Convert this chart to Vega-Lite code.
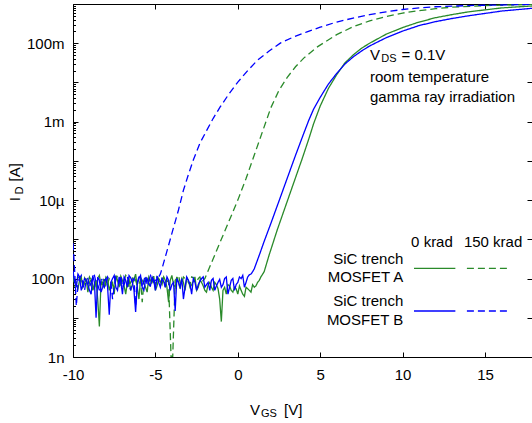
{
  "$schema": "https://vega.github.io/schema/vega-lite/v6.json",
  "width": 459,
  "height": 353,
  "autosize": {"type": "none"},
  "padding": {"left": 73, "top": 4, "right": 0, "bottom": 66},
  "background": "white",
  "config": {
    "view": {"stroke": null},
    "axis": {"grid": false, "domainColor": "black", "tickColor": "black", "labelColor": "black", "labelFont": "Liberation Sans", "labelFontSize": 15, "titleFont": "Liberation Sans", "labelFlush": false},
    "text": {"font": "Liberation Sans", "fontSize": 15, "color": "black"}
  },
  "resolve": {"axis": {"x": "independent", "y": "independent"}},
  "layer": [
    {
      "data": {"values": [
        {"mosfet":"A","dose":"0 krad","vgs":-10,"id":1.1e-7},{"mosfet":"A","dose":"0 krad","vgs":-9.8,"id":7e-8},{"mosfet":"A","dose":"0 krad","vgs":-9.6,"id":9e-8},{"mosfet":"A","dose":"0 krad","vgs":-9.4,"id":6e-8},{"mosfet":"A","dose":"0 krad","vgs":-9.2,"id":1e-7},{"mosfet":"A","dose":"0 krad","vgs":-9,"id":8e-8},{"mosfet":"A","dose":"0 krad","vgs":-8.8,"id":5e-8},{"mosfet":"A","dose":"0 krad","vgs":-8.6,"id":9e-8},{"mosfet":"A","dose":"0 krad","vgs":-8.4,"id":6e-9},{"mosfet":"A","dose":"0 krad","vgs":-8.2,"id":7e-8},{"mosfet":"A","dose":"0 krad","vgs":-8,"id":1.1e-7},{"mosfet":"A","dose":"0 krad","vgs":-7.8,"id":5e-8},{"mosfet":"A","dose":"0 krad","vgs":-7.6,"id":8e-8},{"mosfet":"A","dose":"0 krad","vgs":-7.4,"id":1.2e-7},{"mosfet":"A","dose":"0 krad","vgs":-7.2,"id":6e-8},{"mosfet":"A","dose":"0 krad","vgs":-7,"id":9e-8},{"mosfet":"A","dose":"0 krad","vgs":-6.8,"id":4e-8},{"mosfet":"A","dose":"0 krad","vgs":-6.6,"id":1e-7},{"mosfet":"A","dose":"0 krad","vgs":-6.4,"id":7e-8},{"mosfet":"A","dose":"0 krad","vgs":-6.2,"id":1.3e-7},{"mosfet":"A","dose":"0 krad","vgs":-6,"id":3e-8},{"mosfet":"A","dose":"0 krad","vgs":-5.8,"id":9e-8},{"mosfet":"A","dose":"0 krad","vgs":-5.6,"id":6e-8},{"mosfet":"A","dose":"0 krad","vgs":-5.4,"id":1.1e-7},{"mosfet":"A","dose":"0 krad","vgs":-5.2,"id":8e-8},{"mosfet":"A","dose":"0 krad","vgs":-5,"id":5e-8},{"mosfet":"A","dose":"0 krad","vgs":-4.8,"id":1e-7},{"mosfet":"A","dose":"0 krad","vgs":-4.6,"id":7e-8},{"mosfet":"A","dose":"0 krad","vgs":-4.4,"id":9e-8},{"mosfet":"A","dose":"0 krad","vgs":-4.2,"id":2.5e-8},{"mosfet":"A","dose":"0 krad","vgs":-4,"id":1.2e-7},{"mosfet":"A","dose":"0 krad","vgs":-3.8,"id":6e-8},{"mosfet":"A","dose":"0 krad","vgs":-3.6,"id":8e-8},{"mosfet":"A","dose":"0 krad","vgs":-3.4,"id":1e-7},{"mosfet":"A","dose":"0 krad","vgs":-3.2,"id":5e-8},{"mosfet":"A","dose":"0 krad","vgs":-3,"id":9e-8},{"mosfet":"A","dose":"0 krad","vgs":-2.8,"id":7e-8},{"mosfet":"A","dose":"0 krad","vgs":-2.6,"id":1.1e-7},{"mosfet":"A","dose":"0 krad","vgs":-2.4,"id":6e-8},{"mosfet":"A","dose":"0 krad","vgs":-2.2,"id":8e-8},{"mosfet":"A","dose":"0 krad","vgs":-2,"id":5e-8},{"mosfet":"A","dose":"0 krad","vgs":-1.8,"id":7e-8},{"mosfet":"A","dose":"0 krad","vgs":-1.6,"id":6e-8},{"mosfet":"A","dose":"0 krad","vgs":-1.4,"id":8e-8},{"mosfet":"A","dose":"0 krad","vgs":-1.2,"id":5.5e-8},{"mosfet":"A","dose":"0 krad","vgs":-1,"id":8e-9},{"mosfet":"A","dose":"0 krad","vgs":-0.8,"id":6e-8},{"mosfet":"A","dose":"0 krad","vgs":-0.6,"id":7e-8},{"mosfet":"A","dose":"0 krad","vgs":-0.4,"id":5e-8},{"mosfet":"A","dose":"0 krad","vgs":-0.2,"id":6e-8},{"mosfet":"A","dose":"0 krad","vgs":0,"id":4e-8},{"mosfet":"A","dose":"0 krad","vgs":0.2,"id":5e-8},{"mosfet":"A","dose":"0 krad","vgs":0.4,"id":3.5e-8},{"mosfet":"A","dose":"0 krad","vgs":0.6,"id":5.5e-8},{"mosfet":"A","dose":"0 krad","vgs":0.8,"id":4.5e-8},{"mosfet":"A","dose":"0 krad","vgs":1,"id":6e-8},{"mosfet":"A","dose":"0 krad","vgs":1.2,"id":8e-8},{"mosfet":"A","dose":"0 krad","vgs":1.4,"id":1.1e-7},{"mosfet":"A","dose":"0 krad","vgs":1.6,"id":1.5e-7},{"mosfet":"A","dose":"0 krad","vgs":1.9,"id":3.98e-7},{"mosfet":"A","dose":"0 krad","vgs":2.4,"id":1.78e-6},{"mosfet":"A","dose":"0 krad","vgs":2.9,"id":7.08e-6},{"mosfet":"A","dose":"0 krad","vgs":3.4,"id":2.82e-5},{"mosfet":"A","dose":"0 krad","vgs":3.9,"id":1.12e-4},{"mosfet":"A","dose":"0 krad","vgs":4.3,"id":3.55e-4},{"mosfet":"A","dose":"0 krad","vgs":4.6,"id":8.9e-4},{"mosfet":"A","dose":"0 krad","vgs":5,"id":2.51e-3},{"mosfet":"A","dose":"0 krad","vgs":5.5,"id":7.08e-3},{"mosfet":"A","dose":"0 krad","vgs":6,"id":1.58e-2},{"mosfet":"A","dose":"0 krad","vgs":6.5,"id":3.16e-2},{"mosfet":"A","dose":"0 krad","vgs":7,"id":5.01e-2},{"mosfet":"A","dose":"0 krad","vgs":7.5,"id":7.41e-2},{"mosfet":"A","dose":"0 krad","vgs":8,"id":0.1},{"mosfet":"A","dose":"0 krad","vgs":9,"id":0.17},{"mosfet":"A","dose":"0 krad","vgs":10,"id":0.251},{"mosfet":"A","dose":"0 krad","vgs":11,"id":0.347},{"mosfet":"A","dose":"0 krad","vgs":12,"id":0.447},{"mosfet":"A","dose":"0 krad","vgs":13,"id":0.537},{"mosfet":"A","dose":"0 krad","vgs":14,"id":0.631},{"mosfet":"A","dose":"0 krad","vgs":15,"id":0.708},{"mosfet":"A","dose":"0 krad","vgs":16,"id":0.794},{"mosfet":"A","dose":"0 krad","vgs":17.85,"id":0.891},
        {"mosfet":"A","dose":"0 krad","vgs":-9.9,"id":9e-8},{"mosfet":"A","dose":"0 krad","vgs":-9.7,"id":5.5e-8},{"mosfet":"A","dose":"0 krad","vgs":-9.5,"id":1.1e-7},{"mosfet":"A","dose":"0 krad","vgs":-9.3,"id":7.5e-8},{"mosfet":"A","dose":"0 krad","vgs":-9.1,"id":4.5e-8},{"mosfet":"A","dose":"0 krad","vgs":-8.9,"id":9.5e-8},{"mosfet":"A","dose":"0 krad","vgs":-8.7,"id":6.5e-8},{"mosfet":"A","dose":"0 krad","vgs":-8.5,"id":3e-8},{"mosfet":"A","dose":"0 krad","vgs":-8.3,"id":8.5e-8},{"mosfet":"A","dose":"0 krad","vgs":-8.1,"id":6e-8},{"mosfet":"A","dose":"0 krad","vgs":-7.9,"id":1e-7},{"mosfet":"A","dose":"0 krad","vgs":-7.7,"id":7e-8},{"mosfet":"A","dose":"0 krad","vgs":-7.5,"id":4e-8},{"mosfet":"A","dose":"0 krad","vgs":-7.3,"id":9e-8},{"mosfet":"A","dose":"0 krad","vgs":-7.1,"id":1.15e-7},{"mosfet":"A","dose":"0 krad","vgs":-6.9,"id":6.5e-8},{"mosfet":"A","dose":"0 krad","vgs":-6.7,"id":8.5e-8},{"mosfet":"A","dose":"0 krad","vgs":-6.5,"id":5e-8},{"mosfet":"A","dose":"0 krad","vgs":-6.3,"id":9.5e-8},{"mosfet":"A","dose":"0 krad","vgs":-6.1,"id":6e-8},{"mosfet":"A","dose":"0 krad","vgs":-5.9,"id":1.05e-7},{"mosfet":"A","dose":"0 krad","vgs":-5.7,"id":7.5e-8},{"mosfet":"A","dose":"0 krad","vgs":-5.5,"id":4.5e-8},{"mosfet":"A","dose":"0 krad","vgs":-5.3,"id":9e-8},{"mosfet":"A","dose":"0 krad","vgs":-5.1,"id":1.15e-7},{"mosfet":"A","dose":"0 krad","vgs":-4.9,"id":6.5e-8},{"mosfet":"A","dose":"0 krad","vgs":-4.7,"id":8.5e-8},{"mosfet":"A","dose":"0 krad","vgs":-4.5,"id":1.1e-7},{"mosfet":"A","dose":"0 krad","vgs":-4.3,"id":6e-8},{"mosfet":"A","dose":"0 krad","vgs":-4.1,"id":9e-8},{"mosfet":"A","dose":"0 krad","vgs":-3.9,"id":7e-8},{"mosfet":"A","dose":"0 krad","vgs":-3.7,"id":1.1e-7},{"mosfet":"A","dose":"0 krad","vgs":-3.5,"id":5.5e-8},{"mosfet":"A","dose":"0 krad","vgs":-3.3,"id":8e-8},{"mosfet":"A","dose":"0 krad","vgs":-3.1,"id":1.05e-7},{"mosfet":"A","dose":"0 krad","vgs":-2.9,"id":6e-8},{"mosfet":"A","dose":"0 krad","vgs":-2.7,"id":8.5e-8},{"mosfet":"A","dose":"0 krad","vgs":-2.5,"id":5e-8},{"mosfet":"A","dose":"0 krad","vgs":-2.3,"id":9e-8},{"mosfet":"A","dose":"0 krad","vgs":-2.1,"id":6.5e-8},{"mosfet":"A","dose":"0 krad","vgs":-1.9,"id":4.5e-8},{"mosfet":"A","dose":"0 krad","vgs":-1.7,"id":8e-8},{"mosfet":"A","dose":"0 krad","vgs":-1.5,"id":5e-8},{"mosfet":"A","dose":"0 krad","vgs":-1.3,"id":7e-8},{"mosfet":"A","dose":"0 krad","vgs":-1.1,"id":3e-8},{"mosfet":"A","dose":"0 krad","vgs":-0.9,"id":5e-8},{"mosfet":"A","dose":"0 krad","vgs":-0.7,"id":4e-8},{"mosfet":"A","dose":"0 krad","vgs":-0.5,"id":6.5e-8},{"mosfet":"A","dose":"0 krad","vgs":-0.3,"id":4.5e-8},{"mosfet":"A","dose":"0 krad","vgs":-0.1,"id":5.5e-8},{"mosfet":"A","dose":"0 krad","vgs":0.1,"id":6.5e-8},{"mosfet":"A","dose":"0 krad","vgs":0.3,"id":4e-8},{"mosfet":"A","dose":"0 krad","vgs":0.5,"id":6e-8},{"mosfet":"A","dose":"0 krad","vgs":0.7,"id":5e-8},{"mosfet":"A","dose":"0 krad","vgs":0.9,"id":7e-8},{"mosfet":"A","dose":"0 krad","vgs":1.1,"id":6.5e-8},{"mosfet":"A","dose":"0 krad","vgs":1.3,"id":9e-8},

        {"mosfet":"A","dose":"150 krad","vgs":-10,"id":1.2e-7},{"mosfet":"A","dose":"150 krad","vgs":-9.8,"id":8e-8},{"mosfet":"A","dose":"150 krad","vgs":-9.6,"id":1e-7},{"mosfet":"A","dose":"150 krad","vgs":-9.4,"id":6e-8},{"mosfet":"A","dose":"150 krad","vgs":-9.2,"id":9e-8},{"mosfet":"A","dose":"150 krad","vgs":-9,"id":1.1e-7},{"mosfet":"A","dose":"150 krad","vgs":-8.8,"id":7e-8},{"mosfet":"A","dose":"150 krad","vgs":-8.6,"id":9e-8},{"mosfet":"A","dose":"150 krad","vgs":-8.4,"id":1.2e-7},{"mosfet":"A","dose":"150 krad","vgs":-8.2,"id":8e-8},{"mosfet":"A","dose":"150 krad","vgs":-8,"id":6e-8},{"mosfet":"A","dose":"150 krad","vgs":-7.8,"id":1e-7},{"mosfet":"A","dose":"150 krad","vgs":-7.6,"id":7e-8},{"mosfet":"A","dose":"150 krad","vgs":-7.4,"id":9e-8},{"mosfet":"A","dose":"150 krad","vgs":-7.2,"id":1.1e-7},{"mosfet":"A","dose":"150 krad","vgs":-7,"id":8e-8},{"mosfet":"A","dose":"150 krad","vgs":-6.8,"id":1.2e-7},{"mosfet":"A","dose":"150 krad","vgs":-6.6,"id":6e-8},{"mosfet":"A","dose":"150 krad","vgs":-6.4,"id":1e-7},{"mosfet":"A","dose":"150 krad","vgs":-6.2,"id":9e-8},{"mosfet":"A","dose":"150 krad","vgs":-6,"id":7e-8},{"mosfet":"A","dose":"150 krad","vgs":-5.8,"id":2.5e-8},{"mosfet":"A","dose":"150 krad","vgs":-5.6,"id":1e-7},{"mosfet":"A","dose":"150 krad","vgs":-5.4,"id":8e-8},{"mosfet":"A","dose":"150 krad","vgs":-5.2,"id":1.1e-7},{"mosfet":"A","dose":"150 krad","vgs":-5,"id":7e-8},{"mosfet":"A","dose":"150 krad","vgs":-4.8,"id":9e-8},{"mosfet":"A","dose":"150 krad","vgs":-4.6,"id":1e-7},{"mosfet":"A","dose":"150 krad","vgs":-4.4,"id":6e-8},{"mosfet":"A","dose":"150 krad","vgs":-4.2,"id":8e-8},{"mosfet":"A","dose":"150 krad","vgs":-4.05,"id":1e-9},{"mosfet":"A","dose":"150 krad","vgs":-3.95,"id":1e-9},{"mosfet":"A","dose":"150 krad","vgs":-3.8,"id":9e-8},{"mosfet":"A","dose":"150 krad","vgs":-3.6,"id":1.2e-7},{"mosfet":"A","dose":"150 krad","vgs":-3.4,"id":7e-8},{"mosfet":"A","dose":"150 krad","vgs":-3.2,"id":1e-7},{"mosfet":"A","dose":"150 krad","vgs":-3,"id":8e-8},{"mosfet":"A","dose":"150 krad","vgs":-2.8,"id":1.1e-7},{"mosfet":"A","dose":"150 krad","vgs":-2.6,"id":9e-8},{"mosfet":"A","dose":"150 krad","vgs":-2.4,"id":1e-7},{"mosfet":"A","dose":"150 krad","vgs":-2.2,"id":8e-8},{"mosfet":"A","dose":"150 krad","vgs":-2,"id":1e-7},{"mosfet":"A","dose":"150 krad","vgs":-1.5,"id":3.16e-7},{"mosfet":"A","dose":"150 krad","vgs":-1,"id":1e-6},{"mosfet":"A","dose":"150 krad","vgs":-0.5,"id":3.16e-6},{"mosfet":"A","dose":"150 krad","vgs":0,"id":1e-5},{"mosfet":"A","dose":"150 krad","vgs":0.5,"id":3.55e-5},{"mosfet":"A","dose":"150 krad","vgs":1,"id":1.41e-4},{"mosfet":"A","dose":"150 krad","vgs":1.5,"id":5.62e-4},{"mosfet":"A","dose":"150 krad","vgs":2,"id":2.24e-3},{"mosfet":"A","dose":"150 krad","vgs":2.5,"id":6.31e-3},{"mosfet":"A","dose":"150 krad","vgs":3,"id":1.35e-2},{"mosfet":"A","dose":"150 krad","vgs":3.5,"id":2.51e-2},{"mosfet":"A","dose":"150 krad","vgs":4,"id":4.17e-2},{"mosfet":"A","dose":"150 krad","vgs":4.8,"id":7.94e-2},{"mosfet":"A","dose":"150 krad","vgs":6,"id":0.166},{"mosfet":"A","dose":"150 krad","vgs":7,"id":0.263},{"mosfet":"A","dose":"150 krad","vgs":8,"id":0.372},{"mosfet":"A","dose":"150 krad","vgs":9,"id":0.479},{"mosfet":"A","dose":"150 krad","vgs":10,"id":0.589},{"mosfet":"A","dose":"150 krad","vgs":11,"id":0.676},{"mosfet":"A","dose":"150 krad","vgs":12,"id":0.759},{"mosfet":"A","dose":"150 krad","vgs":13,"id":0.832},{"mosfet":"A","dose":"150 krad","vgs":15,"id":0.912},{"mosfet":"A","dose":"150 krad","vgs":17.85,"id":0.977},
        {"mosfet":"A","dose":"150 krad","vgs":-9.9,"id":6e-8},{"mosfet":"A","dose":"150 krad","vgs":-9.7,"id":1.1e-7},{"mosfet":"A","dose":"150 krad","vgs":-9.5,"id":8e-8},{"mosfet":"A","dose":"150 krad","vgs":-9.3,"id":1.05e-7},{"mosfet":"A","dose":"150 krad","vgs":-9.1,"id":7e-8},{"mosfet":"A","dose":"150 krad","vgs":-8.9,"id":9e-8},{"mosfet":"A","dose":"150 krad","vgs":-8.7,"id":5e-8},{"mosfet":"A","dose":"150 krad","vgs":-8.5,"id":1e-7},{"mosfet":"A","dose":"150 krad","vgs":-8.3,"id":7e-8},{"mosfet":"A","dose":"150 krad","vgs":-8.1,"id":1.1e-7},{"mosfet":"A","dose":"150 krad","vgs":-7.9,"id":7.5e-8},{"mosfet":"A","dose":"150 krad","vgs":-7.7,"id":9.5e-8},{"mosfet":"A","dose":"150 krad","vgs":-7.5,"id":6e-8},{"mosfet":"A","dose":"150 krad","vgs":-7.3,"id":1.2e-7},{"mosfet":"A","dose":"150 krad","vgs":-7.1,"id":7e-8},{"mosfet":"A","dose":"150 krad","vgs":-6.9,"id":9e-8},{"mosfet":"A","dose":"150 krad","vgs":-6.7,"id":1e-7},{"mosfet":"A","dose":"150 krad","vgs":-6.5,"id":8e-8},{"mosfet":"A","dose":"150 krad","vgs":-6.3,"id":1.15e-7},{"mosfet":"A","dose":"150 krad","vgs":-6.1,"id":6.5e-8},{"mosfet":"A","dose":"150 krad","vgs":-5.9,"id":9e-8},{"mosfet":"A","dose":"150 krad","vgs":-5.7,"id":8e-8},{"mosfet":"A","dose":"150 krad","vgs":-5.5,"id":1.1e-7},{"mosfet":"A","dose":"150 krad","vgs":-5.3,"id":6e-8},{"mosfet":"A","dose":"150 krad","vgs":-5.1,"id":9e-8},{"mosfet":"A","dose":"150 krad","vgs":-4.9,"id":1.1e-7},{"mosfet":"A","dose":"150 krad","vgs":-4.7,"id":7e-8},{"mosfet":"A","dose":"150 krad","vgs":-4.5,"id":1.05e-7},{"mosfet":"A","dose":"150 krad","vgs":-4.3,"id":9e-8},{"mosfet":"A","dose":"150 krad","vgs":-3.7,"id":1e-7},{"mosfet":"A","dose":"150 krad","vgs":-3.5,"id":8e-8},{"mosfet":"A","dose":"150 krad","vgs":-3.3,"id":1.1e-7},{"mosfet":"A","dose":"150 krad","vgs":-3.1,"id":9e-8},{"mosfet":"A","dose":"150 krad","vgs":-2.9,"id":7e-8},{"mosfet":"A","dose":"150 krad","vgs":-2.7,"id":1.05e-7},{"mosfet":"A","dose":"150 krad","vgs":-2.5,"id":8e-8},{"mosfet":"A","dose":"150 krad","vgs":-2.3,"id":1.1e-7},{"mosfet":"A","dose":"150 krad","vgs":-2.1,"id":9e-8},

        {"mosfet":"B","dose":"0 krad","vgs":-10,"id":1.6e-7},{"mosfet":"B","dose":"0 krad","vgs":-9.8,"id":6e-8},{"mosfet":"B","dose":"0 krad","vgs":-9.6,"id":1.1e-7},{"mosfet":"B","dose":"0 krad","vgs":-9.4,"id":7e-8},{"mosfet":"B","dose":"0 krad","vgs":-9.2,"id":9e-8},{"mosfet":"B","dose":"0 krad","vgs":-9,"id":5e-8},{"mosfet":"B","dose":"0 krad","vgs":-8.8,"id":1.2e-7},{"mosfet":"B","dose":"0 krad","vgs":-8.6,"id":1e-8},{"mosfet":"B","dose":"0 krad","vgs":-8.4,"id":9e-8},{"mosfet":"B","dose":"0 krad","vgs":-8.2,"id":6e-8},{"mosfet":"B","dose":"0 krad","vgs":-8,"id":1e-7},{"mosfet":"B","dose":"0 krad","vgs":-7.8,"id":1.2e-8},{"mosfet":"B","dose":"0 krad","vgs":-7.6,"id":1e-7},{"mosfet":"B","dose":"0 krad","vgs":-7.4,"id":6e-8},{"mosfet":"B","dose":"0 krad","vgs":-7.2,"id":1.1e-7},{"mosfet":"B","dose":"0 krad","vgs":-7,"id":4e-8},{"mosfet":"B","dose":"0 krad","vgs":-6.8,"id":9e-8},{"mosfet":"B","dose":"0 krad","vgs":-6.6,"id":1.2e-7},{"mosfet":"B","dose":"0 krad","vgs":-6.4,"id":8e-8},{"mosfet":"B","dose":"0 krad","vgs":-6.2,"id":1.4e-8},{"mosfet":"B","dose":"0 krad","vgs":-6,"id":1e-7},{"mosfet":"B","dose":"0 krad","vgs":-5.8,"id":6e-8},{"mosfet":"B","dose":"0 krad","vgs":-5.6,"id":9e-8},{"mosfet":"B","dose":"0 krad","vgs":-5.4,"id":7e-8},{"mosfet":"B","dose":"0 krad","vgs":-5.2,"id":1.1e-7},{"mosfet":"B","dose":"0 krad","vgs":-5,"id":5e-8},{"mosfet":"B","dose":"0 krad","vgs":-4.8,"id":8e-8},{"mosfet":"B","dose":"0 krad","vgs":-4.6,"id":1e-7},{"mosfet":"B","dose":"0 krad","vgs":-4.4,"id":6e-8},{"mosfet":"B","dose":"0 krad","vgs":-4.2,"id":9e-8},{"mosfet":"B","dose":"0 krad","vgs":-4,"id":7e-8},{"mosfet":"B","dose":"0 krad","vgs":-3.8,"id":1.5e-8},{"mosfet":"B","dose":"0 krad","vgs":-3.6,"id":8e-8},{"mosfet":"B","dose":"0 krad","vgs":-3.4,"id":1e-7},{"mosfet":"B","dose":"0 krad","vgs":-3.2,"id":6e-8},{"mosfet":"B","dose":"0 krad","vgs":-3,"id":9e-8},{"mosfet":"B","dose":"0 krad","vgs":-2.8,"id":4e-8},{"mosfet":"B","dose":"0 krad","vgs":-2.6,"id":8e-8},{"mosfet":"B","dose":"0 krad","vgs":-2.4,"id":7e-8},{"mosfet":"B","dose":"0 krad","vgs":-2.2,"id":1e-7},{"mosfet":"B","dose":"0 krad","vgs":-2,"id":6e-8},{"mosfet":"B","dose":"0 krad","vgs":-1.8,"id":8e-8},{"mosfet":"B","dose":"0 krad","vgs":-1.6,"id":9e-8},{"mosfet":"B","dose":"0 krad","vgs":-1.4,"id":5e-8},{"mosfet":"B","dose":"0 krad","vgs":-1.2,"id":8e-8},{"mosfet":"B","dose":"0 krad","vgs":-1,"id":6e-8},{"mosfet":"B","dose":"0 krad","vgs":-0.8,"id":1e-7},{"mosfet":"B","dose":"0 krad","vgs":-0.6,"id":4e-8},{"mosfet":"B","dose":"0 krad","vgs":-0.4,"id":9e-8},{"mosfet":"B","dose":"0 krad","vgs":-0.2,"id":5e-8},{"mosfet":"B","dose":"0 krad","vgs":0,"id":8e-8},{"mosfet":"B","dose":"0 krad","vgs":0.2,"id":1e-7},{"mosfet":"B","dose":"0 krad","vgs":0.4,"id":6e-8},{"mosfet":"B","dose":"0 krad","vgs":0.6,"id":1.1e-7},{"mosfet":"B","dose":"0 krad","vgs":0.8,"id":1.3e-7},{"mosfet":"B","dose":"0 krad","vgs":1,"id":1.78e-7},{"mosfet":"B","dose":"0 krad","vgs":1.34,"id":4.37e-7},{"mosfet":"B","dose":"0 krad","vgs":1.6,"id":8.9e-7},{"mosfet":"B","dose":"0 krad","vgs":2,"id":2.51e-6},{"mosfet":"B","dose":"0 krad","vgs":2.5,"id":9.5e-6},{"mosfet":"B","dose":"0 krad","vgs":3,"id":3.63e-5},{"mosfet":"B","dose":"0 krad","vgs":3.5,"id":1.38e-4},{"mosfet":"B","dose":"0 krad","vgs":4,"id":5.01e-4},{"mosfet":"B","dose":"0 krad","vgs":4.3,"id":1.07e-3},{"mosfet":"B","dose":"0 krad","vgs":4.6,"id":2.09e-3},{"mosfet":"B","dose":"0 krad","vgs":5,"id":4.17e-3},{"mosfet":"B","dose":"0 krad","vgs":5.5,"id":9.12e-3},{"mosfet":"B","dose":"0 krad","vgs":6,"id":1.7e-2},{"mosfet":"B","dose":"0 krad","vgs":6.5,"id":2.95e-2},{"mosfet":"B","dose":"0 krad","vgs":7,"id":4.47e-2},{"mosfet":"B","dose":"0 krad","vgs":7.5,"id":6.31e-2},{"mosfet":"B","dose":"0 krad","vgs":8,"id":8.51e-2},{"mosfet":"B","dose":"0 krad","vgs":9,"id":0.138},{"mosfet":"B","dose":"0 krad","vgs":10,"id":0.204},{"mosfet":"B","dose":"0 krad","vgs":11,"id":0.282},{"mosfet":"B","dose":"0 krad","vgs":12,"id":0.355},{"mosfet":"B","dose":"0 krad","vgs":13,"id":0.427},{"mosfet":"B","dose":"0 krad","vgs":14,"id":0.501},{"mosfet":"B","dose":"0 krad","vgs":15,"id":0.575},{"mosfet":"B","dose":"0 krad","vgs":16,"id":0.661},{"mosfet":"B","dose":"0 krad","vgs":17.85,"id":0.776},
        {"mosfet":"B","dose":"0 krad","vgs":-9.9,"id":8e-8},{"mosfet":"B","dose":"0 krad","vgs":-9.7,"id":1.3e-7},{"mosfet":"B","dose":"0 krad","vgs":-9.5,"id":5e-8},{"mosfet":"B","dose":"0 krad","vgs":-9.3,"id":1e-7},{"mosfet":"B","dose":"0 krad","vgs":-9.1,"id":7e-8},{"mosfet":"B","dose":"0 krad","vgs":-8.9,"id":4e-8},{"mosfet":"B","dose":"0 krad","vgs":-8.7,"id":8e-8},{"mosfet":"B","dose":"0 krad","vgs":-8.5,"id":1.1e-7},{"mosfet":"B","dose":"0 krad","vgs":-8.3,"id":4.5e-8},{"mosfet":"B","dose":"0 krad","vgs":-8.1,"id":9e-8},{"mosfet":"B","dose":"0 krad","vgs":-7.9,"id":6e-8},{"mosfet":"B","dose":"0 krad","vgs":-7.7,"id":8e-8},{"mosfet":"B","dose":"0 krad","vgs":-7.5,"id":1.2e-7},{"mosfet":"B","dose":"0 krad","vgs":-7.3,"id":5e-8},{"mosfet":"B","dose":"0 krad","vgs":-7.1,"id":8.5e-8},{"mosfet":"B","dose":"0 krad","vgs":-6.9,"id":1.1e-7},{"mosfet":"B","dose":"0 krad","vgs":-6.7,"id":6e-8},{"mosfet":"B","dose":"0 krad","vgs":-6.5,"id":1.05e-7},{"mosfet":"B","dose":"0 krad","vgs":-6.3,"id":5e-8},{"mosfet":"B","dose":"0 krad","vgs":-6.1,"id":7e-8},{"mosfet":"B","dose":"0 krad","vgs":-5.9,"id":1.2e-7},{"mosfet":"B","dose":"0 krad","vgs":-5.7,"id":5e-8},{"mosfet":"B","dose":"0 krad","vgs":-5.5,"id":1e-7},{"mosfet":"B","dose":"0 krad","vgs":-5.3,"id":6.5e-8},{"mosfet":"B","dose":"0 krad","vgs":-5.1,"id":9e-8},{"mosfet":"B","dose":"0 krad","vgs":-4.9,"id":1.15e-7},{"mosfet":"B","dose":"0 krad","vgs":-4.7,"id":6e-8},{"mosfet":"B","dose":"0 krad","vgs":-4.5,"id":8.5e-8},{"mosfet":"B","dose":"0 krad","vgs":-4.3,"id":1.1e-7},{"mosfet":"B","dose":"0 krad","vgs":-4.1,"id":5e-8},{"mosfet":"B","dose":"0 krad","vgs":-3.9,"id":8e-8},{"mosfet":"B","dose":"0 krad","vgs":-3.7,"id":1e-7},{"mosfet":"B","dose":"0 krad","vgs":-3.5,"id":6e-8},{"mosfet":"B","dose":"0 krad","vgs":-3.3,"id":3e-8},{"mosfet":"B","dose":"0 krad","vgs":-3.1,"id":1.1e-7},{"mosfet":"B","dose":"0 krad","vgs":-2.9,"id":7e-8},{"mosfet":"B","dose":"0 krad","vgs":-2.7,"id":1e-7},{"mosfet":"B","dose":"0 krad","vgs":-2.5,"id":5e-8},{"mosfet":"B","dose":"0 krad","vgs":-2.3,"id":8.5e-8},{"mosfet":"B","dose":"0 krad","vgs":-2.1,"id":1.1e-7},{"mosfet":"B","dose":"0 krad","vgs":-1.9,"id":7e-8},{"mosfet":"B","dose":"0 krad","vgs":-1.7,"id":5e-8},{"mosfet":"B","dose":"0 krad","vgs":-1.5,"id":1e-7},{"mosfet":"B","dose":"0 krad","vgs":-1.3,"id":6.5e-8},{"mosfet":"B","dose":"0 krad","vgs":-1.1,"id":9.5e-8},{"mosfet":"B","dose":"0 krad","vgs":-0.9,"id":7e-8},{"mosfet":"B","dose":"0 krad","vgs":-0.7,"id":1.1e-7},{"mosfet":"B","dose":"0 krad","vgs":-0.5,"id":6e-8},{"mosfet":"B","dose":"0 krad","vgs":-0.3,"id":1e-7},{"mosfet":"B","dose":"0 krad","vgs":-0.1,"id":7e-8},{"mosfet":"B","dose":"0 krad","vgs":0.1,"id":1.1e-7},{"mosfet":"B","dose":"0 krad","vgs":0.3,"id":1.2e-7},{"mosfet":"B","dose":"0 krad","vgs":0.5,"id":8e-8},{"mosfet":"B","dose":"0 krad","vgs":0.7,"id":1.25e-7},{"mosfet":"B","dose":"0 krad","vgs":0.9,"id":1.5e-7},

        {"mosfet":"B","dose":"150 krad","vgs":-10,"id":8e-7},{"mosfet":"B","dose":"150 krad","vgs":-9.9,"id":1.6e-7},{"mosfet":"B","dose":"150 krad","vgs":-9.8,"id":2e-8},{"mosfet":"B","dose":"150 krad","vgs":-9.6,"id":1e-7},{"mosfet":"B","dose":"150 krad","vgs":-9.4,"id":7e-8},{"mosfet":"B","dose":"150 krad","vgs":-9.2,"id":9e-8},{"mosfet":"B","dose":"150 krad","vgs":-9,"id":6e-8},{"mosfet":"B","dose":"150 krad","vgs":-8.8,"id":1.1e-7},{"mosfet":"B","dose":"150 krad","vgs":-8.6,"id":8e-8},{"mosfet":"B","dose":"150 krad","vgs":-8.4,"id":5e-8},{"mosfet":"B","dose":"150 krad","vgs":-8.2,"id":1e-7},{"mosfet":"B","dose":"150 krad","vgs":-8,"id":7e-8},{"mosfet":"B","dose":"150 krad","vgs":-7.8,"id":9e-8},{"mosfet":"B","dose":"150 krad","vgs":-7.6,"id":3e-8},{"mosfet":"B","dose":"150 krad","vgs":-7.4,"id":1.1e-7},{"mosfet":"B","dose":"150 krad","vgs":-7.2,"id":8e-8},{"mosfet":"B","dose":"150 krad","vgs":-7,"id":6e-8},{"mosfet":"B","dose":"150 krad","vgs":-6.8,"id":1e-7},{"mosfet":"B","dose":"150 krad","vgs":-6.6,"id":7e-8},{"mosfet":"B","dose":"150 krad","vgs":-6.4,"id":9e-8},{"mosfet":"B","dose":"150 krad","vgs":-6.2,"id":2e-8},{"mosfet":"B","dose":"150 krad","vgs":-6,"id":1.1e-7},{"mosfet":"B","dose":"150 krad","vgs":-5.8,"id":6e-8},{"mosfet":"B","dose":"150 krad","vgs":-5.6,"id":1.2e-7},{"mosfet":"B","dose":"150 krad","vgs":-5.4,"id":8e-8},{"mosfet":"B","dose":"150 krad","vgs":-5.2,"id":1e-7},{"mosfet":"B","dose":"150 krad","vgs":-5,"id":9e-8},{"mosfet":"B","dose":"150 krad","vgs":-4.8,"id":1.1e-7},{"mosfet":"B","dose":"150 krad","vgs":-4.6,"id":1.78e-7},{"mosfet":"B","dose":"150 krad","vgs":-4.4,"id":3.55e-7},{"mosfet":"B","dose":"150 krad","vgs":-4.2,"id":7.08e-7},{"mosfet":"B","dose":"150 krad","vgs":-3.9,"id":2e-6},{"mosfet":"B","dose":"150 krad","vgs":-3.6,"id":5.6e-6},{"mosfet":"B","dose":"150 krad","vgs":-3.3,"id":1.78e-5},{"mosfet":"B","dose":"150 krad","vgs":-3,"id":4.47e-5},{"mosfet":"B","dose":"150 krad","vgs":-2.7,"id":1.05e-4},{"mosfet":"B","dose":"150 krad","vgs":-2.3,"id":2.82e-4},{"mosfet":"B","dose":"150 krad","vgs":-1.87,"id":6.17e-4},{"mosfet":"B","dose":"150 krad","vgs":-1.5,"id":1.2e-3},{"mosfet":"B","dose":"150 krad","vgs":-1.08,"id":2.34e-3},{"mosfet":"B","dose":"150 krad","vgs":-0.5,"id":5.37e-3},{"mosfet":"B","dose":"150 krad","vgs":0,"id":1.02e-2},{"mosfet":"B","dose":"150 krad","vgs":0.6,"id":2e-2},{"mosfet":"B","dose":"150 krad","vgs":1.2,"id":3.72e-2},{"mosfet":"B","dose":"150 krad","vgs":1.9,"id":6.31e-2},{"mosfet":"B","dose":"150 krad","vgs":2.6,"id":0.102},{"mosfet":"B","dose":"150 krad","vgs":3.4,"id":0.145},{"mosfet":"B","dose":"150 krad","vgs":4.2,"id":0.195},{"mosfet":"B","dose":"150 krad","vgs":5,"id":0.257},{"mosfet":"B","dose":"150 krad","vgs":6,"id":0.347},{"mosfet":"B","dose":"150 krad","vgs":7,"id":0.437},{"mosfet":"B","dose":"150 krad","vgs":8,"id":0.537},{"mosfet":"B","dose":"150 krad","vgs":9,"id":0.631},{"mosfet":"B","dose":"150 krad","vgs":10,"id":0.724},{"mosfet":"B","dose":"150 krad","vgs":11,"id":0.794},{"mosfet":"B","dose":"150 krad","vgs":12,"id":0.851},{"mosfet":"B","dose":"150 krad","vgs":14,"id":0.912},{"mosfet":"B","dose":"150 krad","vgs":17.85,"id":0.977},
        {"mosfet":"B","dose":"150 krad","vgs":-9.7,"id":7e-8},{"mosfet":"B","dose":"150 krad","vgs":-9.5,"id":1.2e-7},{"mosfet":"B","dose":"150 krad","vgs":-9.3,"id":5e-8},{"mosfet":"B","dose":"150 krad","vgs":-9.1,"id":1e-7},{"mosfet":"B","dose":"150 krad","vgs":-8.9,"id":8e-8},{"mosfet":"B","dose":"150 krad","vgs":-8.7,"id":1.2e-7},{"mosfet":"B","dose":"150 krad","vgs":-8.5,"id":7e-8},{"mosfet":"B","dose":"150 krad","vgs":-8.3,"id":9e-8},{"mosfet":"B","dose":"150 krad","vgs":-8.1,"id":6e-8},{"mosfet":"B","dose":"150 krad","vgs":-7.9,"id":1.1e-7},{"mosfet":"B","dose":"150 krad","vgs":-7.7,"id":8e-8},{"mosfet":"B","dose":"150 krad","vgs":-7.5,"id":6e-8},{"mosfet":"B","dose":"150 krad","vgs":-7.3,"id":1e-7},{"mosfet":"B","dose":"150 krad","vgs":-7.1,"id":1.2e-7},{"mosfet":"B","dose":"150 krad","vgs":-6.9,"id":7e-8},{"mosfet":"B","dose":"150 krad","vgs":-6.7,"id":1.1e-7},{"mosfet":"B","dose":"150 krad","vgs":-6.5,"id":5e-8},{"mosfet":"B","dose":"150 krad","vgs":-6.3,"id":1e-7},{"mosfet":"B","dose":"150 krad","vgs":-6.1,"id":8e-8},{"mosfet":"B","dose":"150 krad","vgs":-5.9,"id":1.15e-7},{"mosfet":"B","dose":"150 krad","vgs":-5.7,"id":9e-8},{"mosfet":"B","dose":"150 krad","vgs":-5.5,"id":7e-8},{"mosfet":"B","dose":"150 krad","vgs":-5.3,"id":1.2e-7},{"mosfet":"B","dose":"150 krad","vgs":-5.1,"id":8e-8},{"mosfet":"B","dose":"150 krad","vgs":-4.9,"id":1e-7},{"mosfet":"B","dose":"150 krad","vgs":-4.7,"id":1.3e-7}
      ]},
      "mark": {"type": "line", "strokeWidth": 1.3, "clip": true},
      "encoding": {
        "x": {"field": "vgs", "type": "quantitative", "scale": {"domain": [-10, 17.85], "nice": false, "zero": false},
              "axis": {"orient": "bottom", "values": [-10, -5, 0, 5, 10, 15], "tickSize": -5, "labelPadding": 15, "labelExpr": "'' + datum.value", "title": null}},
        "y": {"field": "id", "type": "quantitative", "scale": {"type": "log", "domain": [1e-9, 1], "nice": false},
              "axis": {"orient": "left", "values": [1e-9, 1e-8, 1e-7, 1e-6, 1e-5, 1e-4, 1e-3, 1e-2, 1e-1], "tickSize": -5, "labelPadding": 14, "labelExpr": "abs(round(log(datum.value)/LN10)) % 2 == 1 ? format(datum.value, '~s') : ''", "title": null}},
        "color": {"field": "mosfet", "type": "nominal", "scale": {"domain": ["A", "B"], "range": ["#2a8a2a", "#0000ff"]}, "legend": null},
        "strokeDash": {"field": "dose", "type": "nominal", "scale": {"domain": ["0 krad", "150 krad"], "range": [[1, 0], [7, 4]]}, "legend": null}
      }
    },
    {
      "data": {"values": [
        {"mosfet": "A", "dose": "0 krad", "x1": 10.69, "x2": 13.2, "y": 1.82e-7},
        {"mosfet": "A", "dose": "150 krad", "x1": 13.9, "x2": 16.35, "y": 1.82e-7},
        {"mosfet": "B", "dose": "0 krad", "x1": 10.69, "x2": 13.2, "y": 1.49e-8},
        {"mosfet": "B", "dose": "150 krad", "x1": 13.9, "x2": 16.35, "y": 1.49e-8}
      ]},
      "mark": {"type": "rule", "strokeWidth": 1.3},
      "encoding": {
        "x": {"field": "x1", "type": "quantitative", "axis": {"orient": "top", "values": [-10, -5, 0, 5, 10, 15], "tickSize": -5, "labels": false, "title": null}},
        "x2": {"field": "x2"},
        "y": {"field": "y", "type": "quantitative", "axis": {"orient": "right", "values": [1e-9, 1e-8, 1e-7, 1e-6, 1e-5, 1e-4, 1e-3, 1e-2, 1e-1], "tickSize": -5, "labels": false, "title": null}},
        "color": {"field": "mosfet", "type": "nominal", "legend": null},
        "strokeDash": {"field": "dose", "type": "nominal", "legend": null}
      }
    },
    {
      "data": {"values": [
        {"x": 8.02, "y": 0.0487, "t": "V"},
        {"x": 9.93, "y": 0.0487, "t": "= 0.1V"},
        {"x": 8.02, "y": 0.0134, "t": "room temperature"},
        {"x": 8.02, "y": 0.00415, "t": "gamma ray irradiation"},
        {"x": 0.74, "y": 4.4e-11, "t": "V"},
        {"x": 2.8, "y": 4.4e-11, "t": "[V]"}
      ]},
      "mark": {"type": "text", "align": "left", "baseline": "middle"},
      "encoding": {
        "x": {"field": "x", "type": "quantitative", "axis": null},
        "y": {"field": "y", "type": "quantitative", "axis": {"orient": "left", "tickCount": 100, "tickSize": -2.5, "labels": false, "domain": false, "title": null}},
        "text": {"field": "t"}
      }
    },
    {
      "data": {"values": [
        {"x": 8.71, "y": 0.0385, "t": "DS"},
        {"x": 1.41, "y": 3.5e-11, "t": "GS"}
      ]},
      "mark": {"type": "text", "align": "left", "baseline": "middle", "fontSize": 11},
      "encoding": {
        "x": {"field": "x", "type": "quantitative", "axis": null},
        "y": {"field": "y", "type": "quantitative", "axis": null},
        "text": {"field": "t"}
      }
    },
    {
      "data": {"values": [
        {"x": 11.78, "y": 8.53e-7, "t": "0 krad"},
        {"x": 15.49, "y": 8.53e-7, "t": "150 krad"}
      ]},
      "mark": {"type": "text", "align": "center", "baseline": "middle"},
      "encoding": {
        "x": {"field": "x", "type": "quantitative", "axis": null},
        "y": {"field": "y", "type": "quantitative", "axis": null},
        "text": {"field": "t"}
      }
    },
    {
      "data": {"values": [
        {"x": 10.04, "y": 3.23e-7, "t": "SiC trench"},
        {"x": 10.04, "y": 1.1e-7, "t": "MOSFET A"},
        {"x": 10.04, "y": 2.63e-8, "t": "SiC trench"},
        {"x": 10.04, "y": 9.0e-9, "t": "MOSFET B"}
      ]},
      "mark": {"type": "text", "align": "right", "baseline": "middle"},
      "encoding": {
        "x": {"field": "x", "type": "quantitative", "axis": null},
        "y": {"field": "y", "type": "quantitative", "axis": null},
        "text": {"field": "t"}
      }
    },
    {
      "data": {"values": [
        {"x": -13.22, "y": 9.3e-6, "t": "I"},
        {"x": -13.22, "y": 3.0e-5, "t": "[A]"}
      ]},
      "mark": {"type": "text", "align": "left", "baseline": "alphabetic", "angle": 270},
      "encoding": {
        "x": {"field": "x", "type": "quantitative", "axis": null},
        "y": {"field": "y", "type": "quantitative", "axis": null},
        "text": {"field": "t"}
      }
    },
    {
      "data": {"values": [
        {"x": -13.03, "y": 1.4e-5, "t": "D"}
      ]},
      "mark": {"type": "text", "align": "left", "baseline": "alphabetic", "angle": 270, "fontSize": 11},
      "encoding": {
        "x": {"field": "x", "type": "quantitative", "axis": null},
        "y": {"field": "y", "type": "quantitative", "axis": null},
        "text": {"field": "t"}
      }
    }
  ]
}
